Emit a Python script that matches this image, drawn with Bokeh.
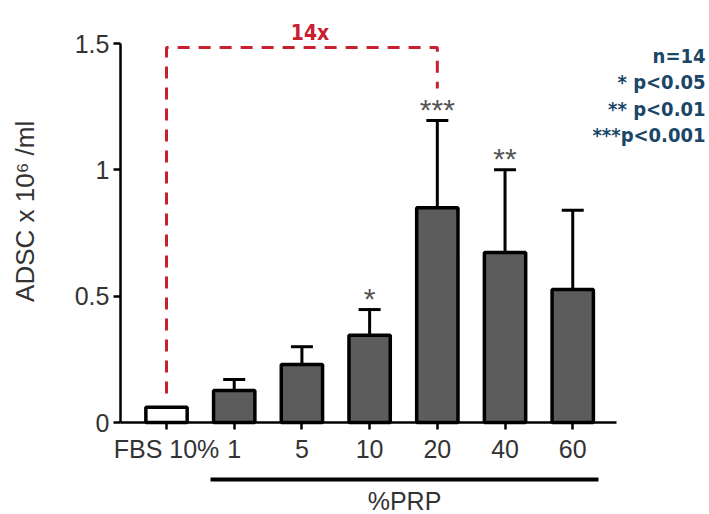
from bokeh.plotting import figure
from bokeh.models import Range1d, ColumnDataSource, Whisker, TeeHead, FixedTicker
from bokeh.core.properties import value
from bokeh.embed import file_html
from bokeh.resources import INLINE

# ---- data ----
categories = ["FBS 10%", "1", "5", "10", "20", "40", "60"]
means = [0.06, 0.127, 0.23, 0.345, 0.85, 0.673, 0.526]
upper = [None, 0.17, 0.30, 0.447, 1.195, 1.0, 0.84]
stars = ["", "", "", "*", "***", "**", ""]
y_ticks = [0, 0.5, 1, 1.5]
y_tick_labels = ["0", "0.5", "1", "1.5"]
legend_lines = ["n=14", "* p<0.05", "** p<0.01", "***p<0.001"]
fold_label = "14x"
fold_from, fold_to = 0, 4          # FBS vs 20 % PRP
fold_start_y, fold_top_y, fold_end_y = 0.115, 1.484, 1.322

xs = list(range(len(categories)))
fills = ["white"] + ["#5c5c5c"] * (len(categories) - 1)

x_start, x_end = -2.452, 8.02
y_start, y_end = -0.3641, 1.6702
x_axis_left = -0.68

p = figure(width=709, height=514, output_backend="svg", toolbar_location=None,
           x_range=Range1d(x_start, x_end), y_range=Range1d(y_start, y_end),
           min_border_left=0, min_border_right=0, min_border_top=0, min_border_bottom=0)
p.outline_line_color = None
p.xgrid.visible = False
p.ygrid.visible = False
p.background_fill_color = "white"
p.border_fill_color = "white"

FONT = "Liberation Sans"
COND = "DejaVu Sans Condensed, Roboto Condensed, Roboto, sans-serif"
TXT = "#333333"

# x axis at y = 0
xa = p.xaxis[0]
xa.fixed_location = 0
xa.bounds = (x_axis_left, 6.64)
xa.ticker = FixedTicker(ticks=xs)
xa.major_label_overrides = {i: c for i, c in zip(xs, categories)}
xa.minor_tick_line_color = None
xa.major_tick_in = 0
xa.major_tick_out = 7
xa.axis_line_width = 2.5
xa.major_tick_line_width = 2.5
xa.major_label_text_font = FONT
xa.major_label_text_font_size = "25px"
xa.major_label_text_color = TXT
xa.major_label_standoff = 5

ya = p.yaxis[0]
ya.fixed_location = x_axis_left
ya.bounds = (0, 1.5)
ya.ticker = FixedTicker(ticks=y_ticks)
ya.major_label_overrides = {(int(t) if t == int(t) else t): l for t, l in zip(y_ticks, y_tick_labels)}
ya.minor_tick_line_color = None
ya.major_tick_in = 0
ya.major_tick_out = 7
ya.axis_line_width = 2.5
ya.major_tick_line_width = 2.5
ya.major_label_text_font = FONT
ya.major_label_text_font_size = "25px"
ya.major_label_text_color = TXT
ya.major_label_standoff = 4
# leading no-break spaces nudge the rotated label upward, as in the original
ya.axis_label = "\u00a0" * 6 + "ADSC x 10\u2076 /ml"
ya.axis_label_text_font = FONT
ya.axis_label_text_font_size = "26px"
ya.axis_label_text_font_style = "normal"
ya.axis_label_text_color = TXT
ya.axis_label_standoff = 32

src = ColumnDataSource(dict(x=xs, val=means, fill=fills, star=stars,
                            err=[u if u is not None else m for u, m in zip(upper, means)]))

p.vbar(x="x", top="val", bottom=0, width=0.61, source=src, fill_color="fill",
       line_color="black", line_width=3.5)

err_src = ColumnDataSource(dict(x=[x for x, u in zip(xs, upper) if u is not None],
                                lo=[m for m, u in zip(means, upper) if u is not None],
                                hi=[u for u in upper if u is not None]))
w = Whisker(source=err_src, base="x", upper="hi", lower="lo", dimension="height",
            line_width=3, line_color="black",
            upper_head=TeeHead(size=22, line_width=3, line_color="black"), lower_head=None,
            level="glyph")
p.add_layout(w)

p.text(x="x", y="err", text="star", source=src, text_align="center",
       text_baseline="alphabetic", y_offset=-11, text_font=value(FONT),
       text_font_size="30px", text_color="#555555")

# fold-change bracket
p.line(x=[fold_from, fold_from, fold_to, fold_to],
       y=[fold_start_y, fold_top_y, fold_top_y, fold_end_y],
       line_color="#c8202e", line_width=3, line_dash="12 9")
p.text(x=[(fold_from + fold_to) / 2 + 0.12], y=[fold_top_y], text=[fold_label],
       text_align="center", text_baseline="bottom", y_offset=-3,
       text_font=value(COND), text_font_style="bold",
       text_font_size="21px", text_color="#c8202e")

# legend text block
leg_y = [1.4525, 1.346, 1.2427, 1.136]
p.text(x=[x_end] * 4, y=leg_y, text=legend_lines, text_align="right",
       text_baseline="middle", x_offset=-4,
       text_font=value(COND), text_font_style="bold",
       text_font_size="20px", text_color="#1a4668")

# %PRP group bar
prp_x0, prp_x1 = xs[1] - 0.35, xs[-1] + 0.38
p.line(x=[prp_x0, prp_x1], y=[-0.2256, -0.2256], line_color="black", line_width=4)
p.text(x=[(prp_x0 + prp_x1) / 2], y=[y_start], text=["%PRP"],
       text_align="center", text_baseline="bottom", text_font=value(FONT),
       text_font_size="25px", text_color=TXT)

open("out.html", "w").write(file_html(p, INLINE))
